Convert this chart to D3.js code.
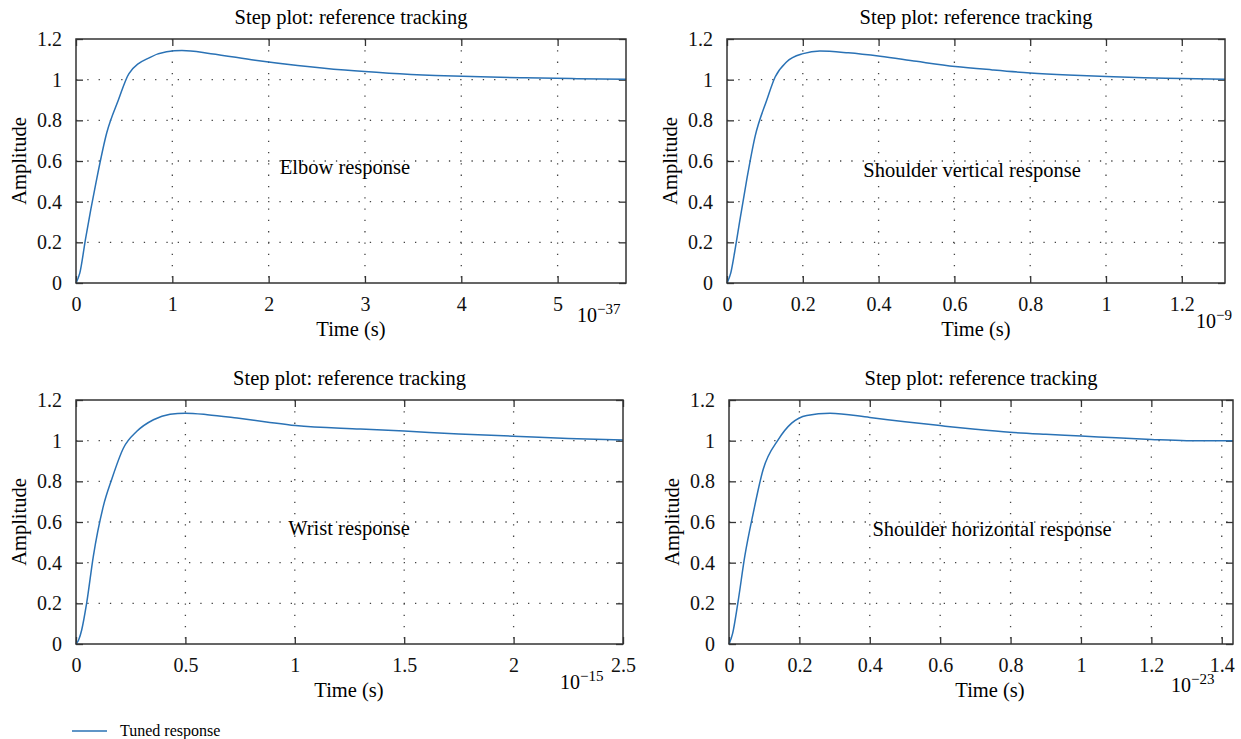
<!DOCTYPE html>
<html>
<head>
<meta charset="utf-8">
<title>Step plot: reference tracking</title>
<style>
body{ margin:0; background:#fff; }
svg{ font-family:"Liberation Serif", "DejaVu Serif", serif; }
.tick text{ font-family:"Liberation Serif", "DejaVu Serif", serif; font-size:20px; fill:#111; }
.frame{ fill:none; stroke:#333; stroke-width:1.5; }
.grid line{ stroke:#444; stroke-width:1.3; stroke-dasharray:1.3,10; }
</style>
</head>
<body>
<svg class="chart"></svg>
<script src="https://cdn.jsdelivr.net/npm/d3@7"></script>
<script>

// data
var titles = ["Step plot: reference tracking", "Step plot: reference tracking", "Step plot: reference tracking", "Step plot: reference tracking"];
var names = ["Elbow response", "Shoulder vertical response", "Wrist response", "Shoulder horizontal response"];
var exponents = ["\u221237", "\u22129", "\u221215", "\u221223"];
var xMax = [5.71, 1.314, 2.5, 1.432];

var elbowT = [0, 0.04, 0.1, 0.21, 0.32, 0.44, 0.55, 0.77, 0.94, 1.1, 1.4, 1.86, 2.3, 2.79, 3.25, 3.73, 4.2, 4.66, 5.2, 5.71];
var elbowY = [0, 0.05, 0.22, 0.5, 0.74, 0.9, 1.03, 1.11, 1.137, 1.143, 1.128, 1.096, 1.07, 1.047, 1.032, 1.021, 1.014, 1.009, 1.005, 1.002];

var shoulderVT = [0, 0.01, 0.02, 0.035, 0.052, 0.074, 0.105, 0.127, 0.157, 0.201, 0.245, 0.32, 0.404, 0.5, 0.602, 0.7, 0.8, 0.9, 1.0, 1.1, 1.2, 1.314];
var shoulderVY = [0, 0.05, 0.15, 0.32, 0.507, 0.72, 0.9, 1.013, 1.087, 1.128, 1.141, 1.132, 1.115, 1.09, 1.065, 1.048, 1.033, 1.023, 1.016, 1.01, 1.006, 1.002];

var wristT = [0, 0.012, 0.026, 0.049, 0.079, 0.125, 0.163, 0.217, 0.278, 0.354, 0.43, 0.499, 0.6, 0.736, 0.87, 1.003, 1.3, 1.5, 1.75, 2.0, 2.25, 2.5];
var wristY = [0, 0.02, 0.069, 0.203, 0.43, 0.678, 0.809, 0.964, 1.046, 1.103, 1.13, 1.135, 1.128, 1.111, 1.092, 1.074, 1.057, 1.047, 1.033, 1.022, 1.011, 1.003];

var shoulderHT = [0, 0.01, 0.025, 0.045, 0.069, 0.097, 0.14, 0.178, 0.221, 0.287, 0.4, 0.5, 0.6, 0.7, 0.798, 0.9, 1.0, 1.1, 1.2, 1.3, 1.432];
var shoulderHY = [0, 0.05, 0.2, 0.433, 0.645, 0.858, 1.005, 1.086, 1.124, 1.135, 1.114, 1.093, 1.074, 1.056, 1.041, 1.031, 1.023, 1.014, 1.006, 1.0, 0.999];

var xTicks = [
	[0, 1, 2, 3, 4, 5],
	[0, 0.2, 0.4, 0.6, 0.8, 1, 1.2],
	[0, 0.5, 1, 1.5, 2, 2.5],
	[0, 0.2, 0.4, 0.6, 0.8, 1, 1.2, 1.4]
];
var yTicks = [0, 0.2, 0.4, 0.6, 0.8, 1, 1.2];

var series = [
	{t: elbowT, y: elbowY},
	{t: shoulderVT, y: shoulderVY},
	{t: wristT, y: wristY},
	{t: shoulderHT, y: shoulderHY}
];

// layout of the four boxes
var boxes = [
	{left: 76, right: 626, top: 39, bottom: 283, expX: 577, expY: 322, labelX: 351, annX: 345, annY: 174},
	{left: 727, right: 1225, top: 39, bottom: 283, expX: 1196, expY: 328, labelX: 976, annX: 972, annY: 177},
	{left: 76, right: 623, top: 400, bottom: 644, expX: 560, expY: 689, labelX: 349, annX: 349, annY: 535},
	{left: 729, right: 1233, top: 400, bottom: 644, expX: 1171, expY: 692, labelX: 990, annX: 992, annY: 536}
];

var lineColor = "#2a72b5";
var width = 1241;
var height = 739;

var svg = d3.select(".chart")
			.attr("width", width)
			.attr("height", height);

function fmt(d){
	return d3.format("~g")(d);
}

function clean(a){
	a.attr("font-family", null).attr("font-size", null);
	a.select(".domain").remove();
}

boxes.forEach(function(b, i){
	var w = b.right - b.left;
	var h = b.bottom - b.top;

	var x = d3.scaleLinear().domain([0, xMax[i]]).range([0, w]);
	var y = d3.scaleLinear().domain([0, 1.2]).range([h, 0]);

	var g = svg.append("g")
				.attr("transform", "translate(" + b.left + "," + b.top + ")");

	// dotted grid
	g.append("g")
		.attr("class", "grid")
		.selectAll("line")
		.data(yTicks.filter(function(d){ return d > 0 && d < 1.2; }))
		.enter().append("line")
		.attr("x1", 0).attr("x2", w)
		.attr("y1", function(d){ return y(d); })
		.attr("y2", function(d){ return y(d); });

	g.append("g")
		.attr("class", "grid")
		.selectAll("line")
		.data(xTicks[i].filter(function(d){ return d > 0 && d < xMax[i]; }))
		.enter().append("line")
		.attr("y1", 0).attr("y2", h)
		.attr("x1", function(d){ return x(d); })
		.attr("x2", function(d){ return x(d); });

	// axes, ticks pointing in
	g.append("g")
		.attr("transform", "translate(0," + h + ")")
		.call(d3.axisBottom(x).tickValues(xTicks[i]).tickFormat(fmt).tickSizeInner(-7).tickSizeOuter(0).tickPadding(14))
		.call(clean);

	g.append("g")
		.call(d3.axisTop(x).tickValues(xTicks[i]).tickFormat("").tickSizeInner(-7).tickSizeOuter(0))
		.call(clean);

	g.append("g")
		.call(d3.axisLeft(y).tickValues(yTicks).tickFormat(fmt).tickSizeInner(-7).tickSizeOuter(0).tickPadding(14))
		.call(clean);

	g.append("g")
		.attr("transform", "translate(" + w + ",0)")
		.call(d3.axisRight(y).tickValues(yTicks).tickFormat("").tickSizeInner(-7).tickSizeOuter(0))
		.call(clean);

	g.selectAll(".tick line").attr("stroke", "#333").attr("stroke-width", 1.3);

	// the step response
	var pts = series[i].t.map(function(t, k){ return [t, series[i].y[k]]; });
	g.append("path")
		.datum(pts)
		.attr("fill", "none")
		.attr("stroke", lineColor)
		.attr("stroke-width", 1.5)
		.attr("d", d3.line()
			.x(function(d){ return x(d[0]); })
			.y(function(d){ return y(d[1]); })
			.curve(d3.curveMonotoneX));

	g.append("rect")
		.attr("class", "frame")
		.attr("width", w)
		.attr("height", h);

	// texts
	svg.append("text")
		.attr("x", (b.left + b.right) / 2)
		.attr("y", b.top - 15)
		.attr("text-anchor", "middle")
		.style("font-size", "20.5px")
		.text(titles[i]);

	svg.append("text")
		.attr("x", b.labelX)
		.attr("y", b.bottom + 53)
		.attr("text-anchor", "middle")
		.style("font-size", "20.5px")
		.text("Time (s)");

	svg.append("text")
		.attr("transform", "translate(" + (b.left - 50) + "," + (b.top + h / 2) + ") rotate(-90)")
		.attr("text-anchor", "middle")
		.style("font-size", "20.5px")
		.text("Amplitude");

	svg.append("text")
		.attr("x", b.annX)
		.attr("y", b.annY)
		.attr("text-anchor", "middle")
		.style("font-size", "20.5px")
		.text(names[i]);

	var ex = svg.append("text")
		.attr("x", b.expX)
		.attr("y", b.expY)
		.style("font-size", "20px")
		.text("10");
	ex.append("tspan")
		.attr("dy", -8)
		.style("font-size", "15px")
		.text(exponents[i]);
});

// legend
svg.append("line")
	.attr("x1", 72).attr("x2", 107)
	.attr("y1", 731).attr("y2", 731)
	.attr("stroke", lineColor)
	.attr("stroke-width", 1.3);

svg.append("text")
	.attr("x", 120)
	.attr("y", 736)
	.style("font-size", "16px")
	.text("Tuned response");

</script>
</body>
</html>
